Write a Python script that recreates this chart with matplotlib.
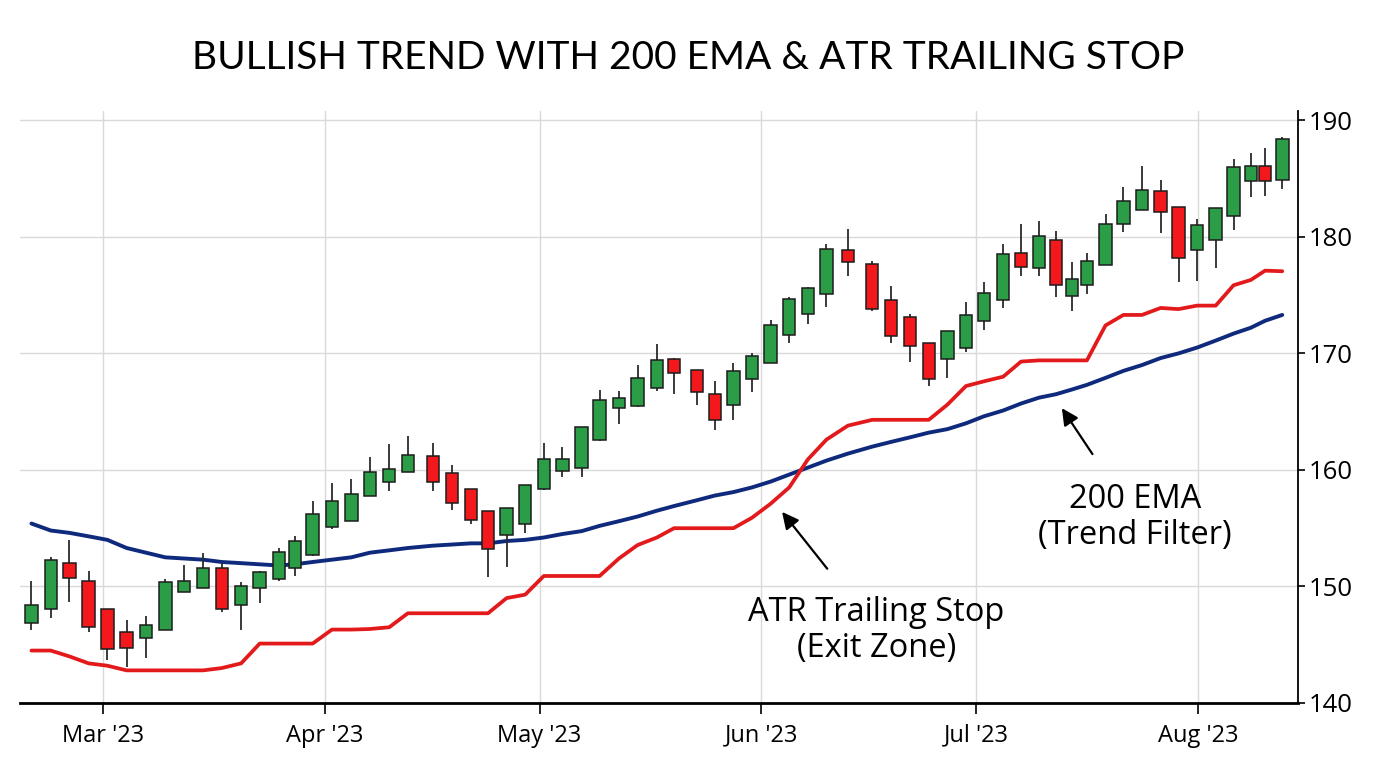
import numpy as np
import matplotlib

matplotlib.use("Agg")
import matplotlib.pyplot as plt
import matplotlib.dates as mdates

START = np.datetime64("2023-03-01")

# candle dates, in days after START
day_offset = [
    -10.0, -7.3, -4.7, -2.0, 0.6, 3.3, 6.0, 8.7, 11.3, 14.0,
    16.6, 19.3, 21.9, 24.6, 26.8, 29.3, 32.0, 34.7, 37.3, 40.0,
    42.6, 46.1, 48.8, 51.4, 53.8, 56.4, 59.0, 61.6, 64.2, 66.9,
    69.4, 72.1, 74.7, 77.4, 79.8, 83.0, 85.5, 88.1, 90.7, 93.3,
    95.9, 98.5, 101.1, 104.1, 107.5, 110.1, 112.8, 115.4, 118.0, 120.6,
    123.1, 125.8, 128.3, 130.8, 133.2, 135.4, 137.5, 140.1, 142.6, 145.2,
    147.8, 150.3, 152.9, 155.5, 158.0, 160.4, 162.4, 164.8,
]
opens = [
    146.9, 148.1, 152.0, 150.5, 148.1, 146.1, 145.6, 146.3, 149.5, 149.9,
    151.6, 148.4, 149.9, 150.6, 151.6, 152.7, 155.1, 155.6, 157.8, 159.0,
    159.8, 161.2, 159.7, 158.4, 156.5, 154.4, 155.4, 158.4, 159.9, 160.2,
    162.6, 165.3, 165.5, 167.0, 169.5, 168.6, 166.5, 165.6, 167.8, 169.2,
    171.6, 173.4, 175.1, 178.9, 177.7, 174.6, 173.1, 170.9, 169.5, 170.5,
    172.8, 174.6, 178.6, 177.3, 179.7, 174.9, 175.9, 177.6, 181.1, 182.3,
    183.9, 182.6, 178.9, 179.7, 181.8, 184.8, 186.1, 184.9,
]
highs = [
    150.5, 152.5, 154.0, 151.3, 148.1, 147.1, 147.5, 150.6, 151.8, 152.9,
    152.0, 150.4, 151.3, 153.3, 154.3, 157.3, 158.9, 159.2, 161.1, 162.2,
    162.9, 162.3, 160.4, 158.4, 156.5, 156.7, 158.7, 162.3, 162.0, 163.7,
    166.9, 166.8, 169.0, 170.8, 169.6, 168.6, 167.6, 169.2, 170.0, 172.9,
    174.8, 175.7, 179.4, 180.7, 177.9, 175.8, 173.4, 170.9, 171.9, 174.4,
    176.1, 179.4, 181.1, 181.4, 180.5, 177.8, 178.6, 182.0, 184.3, 186.1,
    184.9, 182.6, 181.5, 182.5, 186.7, 187.2, 187.6, 188.6,
]
lows = [
    146.3, 147.3, 148.7, 146.1, 143.7, 143.1, 143.9, 146.3, 149.5, 149.9,
    147.8, 146.3, 148.6, 150.5, 150.9, 152.6, 154.9, 155.6, 157.8, 158.2,
    159.8, 158.2, 156.6, 155.4, 150.8, 151.7, 154.6, 158.3, 159.4, 159.4,
    162.5, 163.9, 165.4, 166.8, 166.5, 165.6, 163.4, 164.3, 166.7, 169.2,
    170.9, 172.5, 174.0, 176.6, 173.6, 170.9, 169.3, 167.2, 167.9, 170.1,
    172.0, 173.9, 176.6, 176.6, 174.8, 173.6, 175.1, 177.6, 180.4, 182.3,
    180.3, 176.1, 176.2, 177.3, 180.6, 183.4, 183.5, 184.1,
]
closes = [
    148.4, 152.3, 150.7, 146.5, 144.6, 144.7, 146.7, 150.4, 150.5, 151.6,
    148.1, 150.0, 151.2, 153.0, 153.9, 156.2, 157.3, 157.9, 159.8, 160.1,
    161.3, 159.0, 157.2, 155.7, 153.2, 156.7, 158.7, 160.9, 160.9, 163.7,
    166.0, 166.2, 167.9, 169.4, 168.3, 166.7, 164.3, 168.5, 169.8, 172.4,
    174.7, 175.6, 179.0, 177.8, 173.8, 171.5, 170.6, 167.8, 171.9, 173.3,
    175.2, 178.5, 177.4, 180.1, 175.9, 176.4, 177.9, 181.1, 183.1, 184.0,
    182.1, 178.2, 181.0, 182.5, 186.0, 186.1, 184.8, 188.4,
]
ema200 = [
    155.4, 154.8, 154.6, 154.3, 154.0, 153.3, 152.9, 152.5, 152.4, 152.3,
    152.1, 152.0, 151.9, 151.8, 151.9, 152.1, 152.3, 152.5, 152.9, 153.1,
    153.3, 153.5, 153.6, 153.7, 153.7, 153.9, 154.0, 154.2, 154.5, 154.75,
    155.2, 155.6, 156.0, 156.5, 156.9, 157.4, 157.8, 158.1, 158.5, 159.0,
    159.6, 160.2, 160.8, 161.4, 162.0, 162.4, 162.8, 163.2, 163.5, 164.0,
    164.6, 165.1, 165.7, 166.2, 166.5, 166.9, 167.3, 167.9, 168.5, 169.0,
    169.6, 170.0, 170.5, 171.1, 171.7, 172.2, 172.8, 173.3,
]
atr_stop = [
    144.5, 144.5, 144.0, 143.4, 143.2, 142.8, 142.8, 142.8, 142.8, 142.8,
    143.0, 143.4, 145.1, 145.1, 145.1, 145.1, 146.3, 146.3, 146.35, 146.5,
    147.7, 147.7, 147.7, 147.7, 147.7, 149.0, 149.3, 150.9, 150.9, 150.9,
    150.9, 152.4, 153.55, 154.2, 155.0, 155.0, 155.0, 155.0, 155.9, 157.1,
    158.5, 160.9, 162.6, 163.8, 164.3, 164.3, 164.3, 164.3, 165.6, 167.2,
    167.6, 168.0, 169.3, 169.4, 169.4, 169.4, 169.4, 172.4, 173.3, 173.3,
    173.9, 173.8, 174.1, 174.1, 175.85, 176.3, 177.1, 177.05,
]
y_ticks = [140, 150, 160, 170, 180, 190]

GREEN = "#2a9d46"
RED = "#f2181b"
EMA_BLUE = "#0f2a7c"
STOP_RED = "#e31a1c"
GRID = "#d9d9d9"

x = mdates.date2num(START) + np.array(day_offset)
o = np.array(opens)
c = np.array(closes)
colors = [GREEN if cc >= oo else RED for oo, cc in zip(o, c)]

fig = plt.figure(figsize=(13.76, 7.68), dpi=100)
ax = fig.add_axes([20 / 1376, 1 - 703 / 768, 1278 / 1376, 592 / 768])

ax.plot(x, ema200, color=EMA_BLUE, lw=2.8, zorder=2, solid_capstyle="round")
ax.plot(x, atr_stop, color=STOP_RED, lw=2.7, zorder=2.1, solid_capstyle="round")

ax.vlines(x, lows, highs, color="#2b2b2b", lw=1.3, zorder=3)
ax.bar(x, c - o, bottom=o, width=1.75, color=colors, edgecolor="#1c1c1c",
       linewidth=1.1, zorder=4)

ax.set_xlim(mdates.date2num(START) - 11.6, mdates.date2num(START) + 167.0)
ax.set_ylim(140, 190.8)
ax.set_yticks(y_ticks)
ax.yaxis.tick_right()
ax.xaxis.set_major_locator(mdates.MonthLocator())
ax.xaxis.set_major_formatter(mdates.DateFormatter("%b '%y"))

ax.grid(True, color=GRID, lw=1.0, zorder=0)
ax.set_axisbelow(True)
for side in ("left", "top"):
    ax.spines[side].set_visible(False)
ax.spines["bottom"].set_linewidth(2.0)
ax.spines["right"].set_linewidth(1.3)
ax.tick_params(axis="x", length=8, width=1.2, direction="out", pad=7,
               labelsize=17)
ax.tick_params(axis="y", length=5, width=1.2, direction="out", pad=3,
               labelsize=18.5)
for lab in ax.get_xticklabels() + ax.get_yticklabels():
    lab.set_fontfamily("Open Sans")

fig.text(0.5, 1 - 58 / 768, "BULLISH TREND WITH 200 EMA & ATR TRAILING STOP",
         ha="center", va="center", fontsize=28, family="Lato")

base = mdates.date2num(START)
ax.annotate("ATR Trailing Stop\n(Exit Zone)", xy=(base + 94.9, 156.4),
            xytext=(base + 108.1, 146.2), ha="center", va="center",
            fontsize=23.5, family="Open Sans", linespacing=1.1,
            arrowprops=dict(arrowstyle="-|>", color="black", lw=1.6,
                            mutation_scale=25, shrinkA=23, shrinkB=0))
ax.annotate("200 EMA\n(Trend Filter)", xy=(base + 134.0, 165.3),
            xytext=(base + 144.2, 155.9), ha="center", va="center",
            fontsize=23.5, family="Open Sans", linespacing=1.1,
            arrowprops=dict(arrowstyle="-|>", color="black", lw=1.6,
                            mutation_scale=25, shrinkA=23, shrinkB=0))

fig.savefig("out.png", dpi=100, facecolor="white")
